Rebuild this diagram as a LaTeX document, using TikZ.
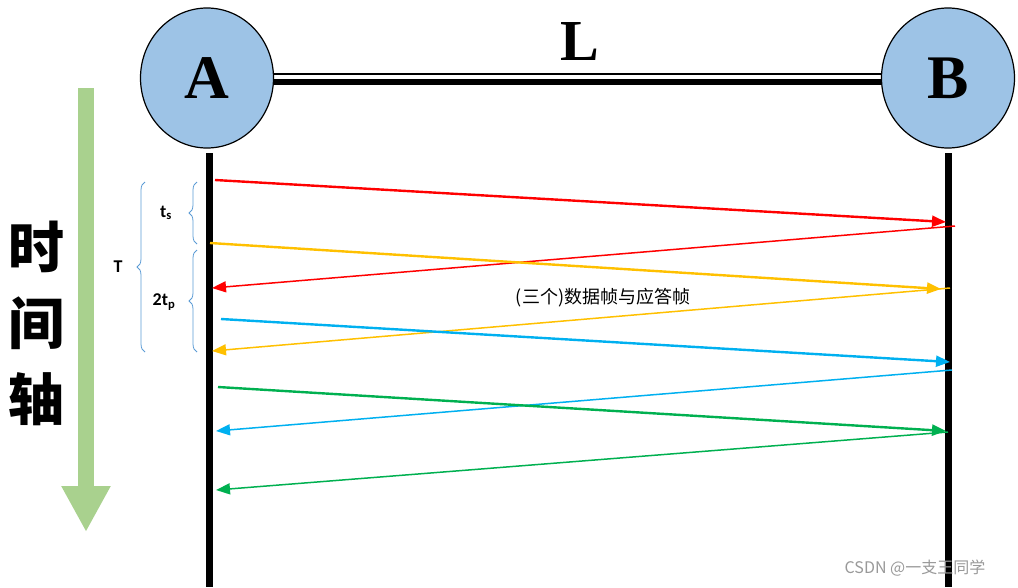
\documentclass[tikz,border=0pt]{standalone}
\usepackage{fontspec}
\setmainfont{Liberation Serif}
\newfontfamily\calfont{Carlito}
\newfontfamily\cjk{Noto Sans CJK SC}
\usetikzlibrary{arrows.meta,decorations.pathreplacing,shapes.geometric}
\definecolor{nodeblue}{RGB}{157,195,230}
\definecolor{bracec}{RGB}{91,155,213}
\definecolor{ored}{RGB}{255,0,0}
\definecolor{oorange}{RGB}{255,192,0}
\definecolor{oblue}{RGB}{0,176,240}
\definecolor{ogreen}{RGB}{0,176,80}
\definecolor{tgreen}{RGB}{169,209,142}
\begin{document}
\begin{tikzpicture}[x=1pt,y=-1pt,
  station/.style={draw=black,line width=1.2pt,fill=nodeblue,ellipse,minimum width=133pt,minimum height=140pt,inner sep=0pt,font=\fontsize{62}{62}\bfseries\selectfont},
  msg/.style={line width=2.4pt,-{Triangle[length=14pt,width=11pt]}},
  ack/.style={line width=1.5pt,-{Triangle[length=14pt,width=11pt]}},
  br/.style={draw=bracec,line width=0.8pt,decorate,decoration={brace,amplitude=8pt}},
  lbl/.style={font=\calfont\bfseries\fontsize{18}{18}\selectfont}]
\useasboundingbox (0,0) rectangle (1018,587);
\node[station] (A) at (207,78) {A};
\node[station] (B) at (948,78) {B};
\draw[line width=2pt] (A.east |- 0,74) -- (B.west |- 0,74);
\draw[line width=6pt] (A.east |- 0,82) -- (B.west |- 0,82);
\node[font=\fontsize{58}{58}\bfseries\selectfont] (L) at (580,42) {L};
\coordinate (Atop) at (209,153); \coordinate (Abot) at (209,587);
\coordinate (Btop) at (948,153); \coordinate (Bbot) at (948,587);
\draw[line width=7pt] (Atop) -- (Abot);
\draw[line width=7pt] (Btop) -- (Bbot);
% messages
\coordinate (r1) at (215,180); \coordinate (r2) at (946,222);
\coordinate (r3) at (955,226); \coordinate (r4) at (212,288);
\coordinate (o1) at (210,243); \coordinate (o2) at (941,289);
\coordinate (o3) at (950,288); \coordinate (o4) at (212,351);
\coordinate (b1) at (221,319); \coordinate (b2) at (950,362);
\coordinate (b3) at (952,370); \coordinate (b4) at (216,431);
\coordinate (g1) at (218,387); \coordinate (g2) at (946,431);
\coordinate (g3) at (948,432); \coordinate (g4) at (216,490);
\draw[msg,ored] (r1) -- (r2);
\draw[ack,ored] (r3) -- (r4);
\draw[msg,oorange] (o1) -- (o2);
\draw[ack,oorange] (o3) -- (o4);
\draw[msg,oblue] (b1) -- (b2);
\draw[ack,oblue] (b3) -- (b4);
\draw[msg,ogreen] (g1) -- (g2);
\draw[ack,ogreen] (g3) -- (g4);
\node[font=\cjk\fontsize{18}{18}\selectfont] (cap) at (603,298) {(三个)数据帧与应答帧};
% braces
\draw[br] (197,244) -- (197,182);
\draw[br] (197,352) -- (197,250);
\draw[br] (145,352) -- (145,182);
\node[lbl] (ts) at (166,213) {t\textsubscript{s}};
\node[lbl] (tp) at (164,302) {2t\textsubscript{p}};
\node[lbl] (T) at (118,267) {T};
% time arrow
\coordinate (ta) at (86,88); \coordinate (tb) at (86,532);
\draw[tgreen,line width=16pt,-{Triangle[length=46pt,width=46pt]}] (ta) -- (tb);
\node[font=\cjk\bfseries\fontsize{56}{56}\selectfont,align=center] (time) at (37,323) {时\\[20pt]间\\[20pt]轴};
\node[font=\cjk\fontsize{16}{16}\selectfont,text=gray!80] (wm) at (915,568) {CSDN @一支王同学};
\end{tikzpicture}
\end{document}
